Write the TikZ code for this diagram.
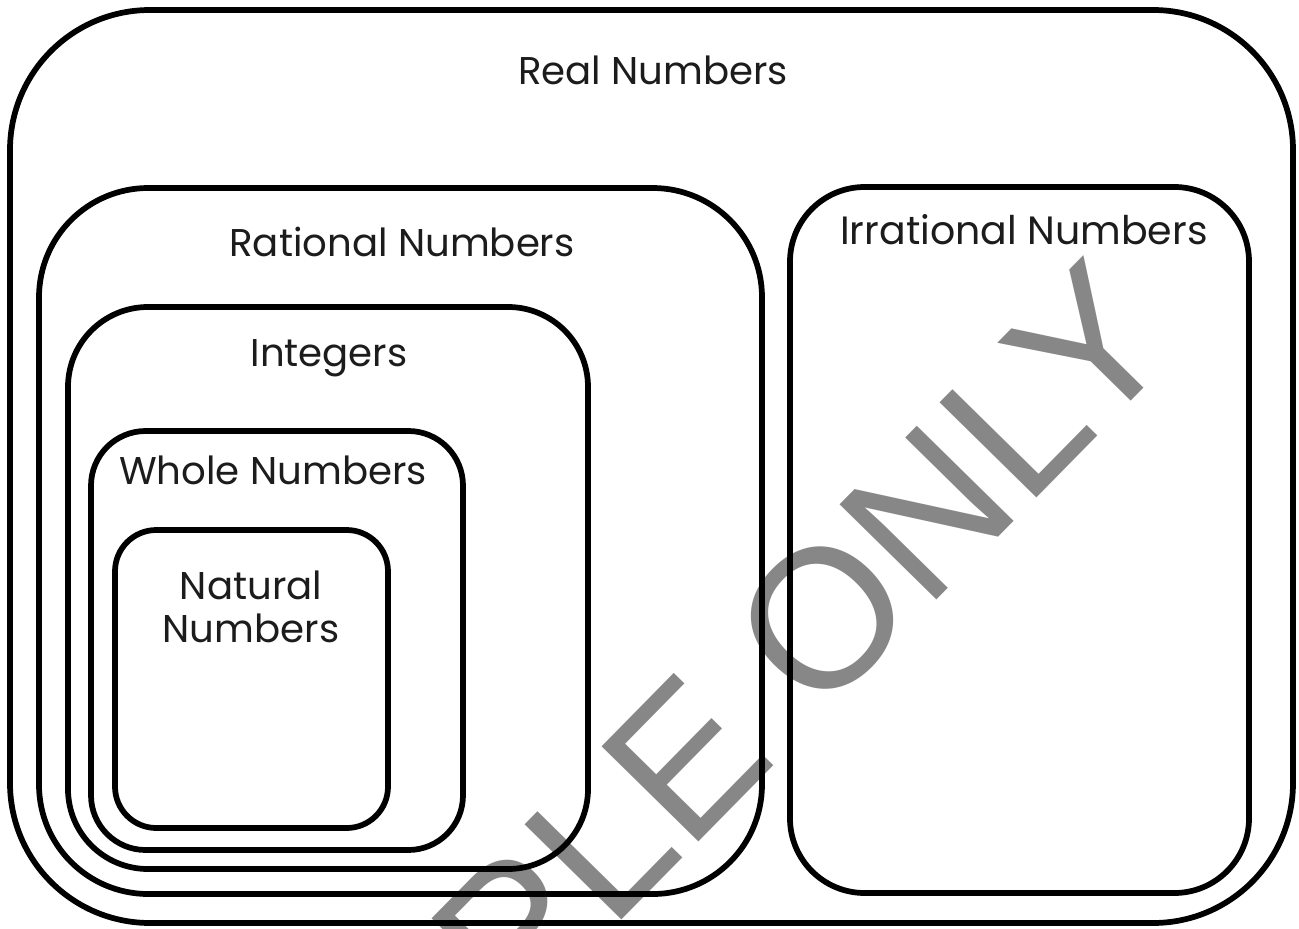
\documentclass[tikz,border=0pt]{standalone}
\usepackage{fontspec}
\setmainfont{Poppins}
\newfontfamily\wmfont{Liberation Sans}
\definecolor{wmgray}{HTML}{878787}
\definecolor{ink}{HTML}{1C1C1C}
\begin{document}
\begin{tikzpicture}[x=0.75pt,y=-0.75pt,
  setbox/.style={line width=4.3pt, rounded corners=#1},
  lbl/.style={font=\fontsize{29}{32}\selectfont, text=ink, inner sep=0pt, align=center},
]
\useasboundingbox (0,0) rectangle (1299,928);
\clip (0,0) rectangle (1299,928);
\fill[white] (0,0) rectangle (1299,928);
% watermark
\node[rotate=45.5, anchor=base west, text=wmgray, font=\wmfont\fontsize{148}{160}\selectfont, inner sep=0pt] (wm) at (218,1331) {SAMPLE ONLY};
% sets
\draw[setbox=105pt] (10,10) rectangle (1293,923);
\draw[setbox=82pt] (39,188) rectangle (762,894);
\draw[setbox=60pt] (68,307) rectangle (588,869);
\draw[setbox=41pt] (91,431) rectangle (463,850);
\draw[setbox=31pt] (115,530) rectangle (388,828);
\draw[setbox=56pt] (790,187) rectangle (1249,893);
% labels
\node[lbl] (real) at (653,70) {Real Numbers};
\node[lbl] (rational) at (402,242) {Rational Numbers};
\node[lbl] (integers) at (329,358) {Integers};
\node[lbl] (whole) at (273,470) {Whole Numbers};
\node[lbl] (natural) at (251,607) {Natural\\Numbers};
\node[lbl,font=\fontsize{29.6}{32}\selectfont] (irrational) at (1024,230) {Irrational Numbers};
\end{tikzpicture}
\end{document}
